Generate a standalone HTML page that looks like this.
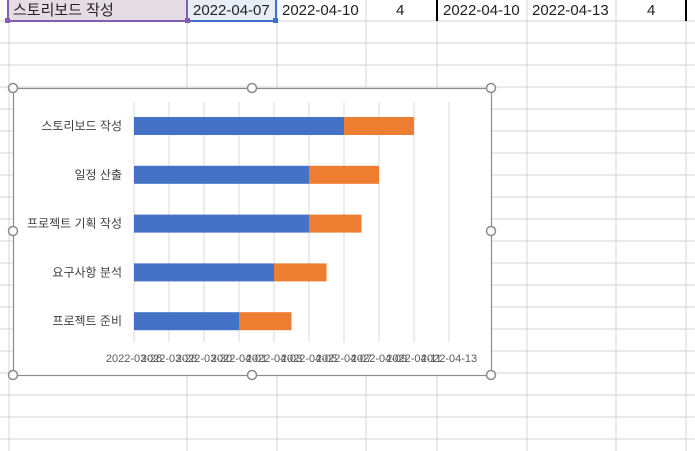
<!DOCTYPE html>
<html><head><meta charset="utf-8">
<style>
body{margin:0;width:695px;height:451px;overflow:hidden;background:#fff;font-family:"Liberation Sans","Noto Sans CJK KR",sans-serif;}
.cell{position:absolute;top:0;height:21px;line-height:21px;font-size:15px;color:#222;}
</style></head>
<body>
<svg width="695" height="451" style="position:absolute;left:0;top:0">
<g id="grid" stroke="#d4d4d4" stroke-width="1"></g>
<rect x="9" y="0" width="178" height="21" fill="#e6dde4"/>
<rect x="188" y="0" width="88" height="21" fill="#e8eef8"/>
<line x1="9" y1="21" x2="187" y2="21" stroke="#7f5fb5" stroke-width="2"/>
<line x1="8" y1="0" x2="8" y2="21" stroke="#7f5fb5" stroke-width="2"/>
<line x1="187" y1="0" x2="187" y2="21" stroke="#7f5fb5" stroke-width="2"/>
<line x1="188" y1="21" x2="276" y2="21" stroke="#3a6fc4" stroke-width="2"/>
<line x1="276" y1="0" x2="276" y2="21" stroke="#3a6fc4" stroke-width="2"/>
<rect x="5" y="18" width="5" height="5" fill="#7f5fb5"/><rect x="185" y="18" width="5" height="5" fill="#7f5fb5"/><rect x="273" y="18" width="5" height="5" fill="#3a6fc4"/>
<line x1="437" y1="0" x2="437" y2="21" stroke="#000" stroke-width="2"/>
<line x1="686" y1="0" x2="686" y2="21" stroke="#000" stroke-width="2"/>
</svg>
<div class="cell" style="left:13px">스토리보드 작성</div>
<div class="cell" style="left:193px">2022-04-07</div>
<div class="cell" style="left:282px">2022-04-10</div>
<div class="cell" style="left:396px">4</div>
<div class="cell" style="left:443px">2022-04-10</div>
<div class="cell" style="left:532px">2022-04-13</div>
<div class="cell" style="left:647px">4</div>

<svg id="chart" width="695" height="451" style="position:absolute;left:0;top:0"></svg>
<script>
const categories=["스토리보드 작성","일정 산출","프로젝트 기획 작성","요구사항 분석","프로젝트 준비"];
const startDates=["2022-04-07","2022-04-05","2022-04-05","2022-04-03","2022-04-01"];
const durations=[4,4,3,3,3];
const tickLabels=["2022-03-26","2022-03-28","2022-03-30","2022-04-01","2022-04-03","2022-04-05","2022-04-07","2022-04-09","2022-04-11","2022-04-13"];
const axisMin="2022-03-26";

const NS="http://www.w3.org/2000/svg";
function mk(p,t,a){const e=document.createElementNS(NS,t);for(const k in a)e.setAttribute(k,a[k]);p.appendChild(e);return e;}
const g=document.getElementById('grid');
[9,187,277,366,437,527,616,686].forEach(x=>mk(g,'line',{x1:x,y1:0,x2:x,y2:451}));
for(let y=21;y<451;y+=22)mk(g,'line',{x1:0,y1:y,x2:695,y2:y});

const svg=document.getElementById('chart');
const day=86400000;
function dnum(s){return Date.parse(s+"T00:00:00Z")/day;}
const x0=134,pxPerDay=17.5,base=dnum(axisMin);
function xs(d){return x0+(d-base)*pxPerDay;}
const rowTop=102,rowH=48.8;
function yc(i){return rowTop+rowH*i+24;}

const box=mk(svg,'rect',{x:13.5,y:88.5,width:478,height:287,fill:'#fff',stroke:'#8c8c8c','stroke-width':1.2});


tickLabels.forEach(t=>{
  const x=xs(dnum(t));
  const l=mk(svg,'line',{x1:x,y1:102,x2:x,y2:342,stroke:'#d9d9d9'});
  
  
  const tx=mk(svg,'text',{x:x,y:362,'text-anchor':'middle','font-size':'11',fill:'#595959'});
  tx.textContent=t;
  
  
});
categories.forEach((c,i)=>{
  const y=yc(i),s=dnum(startDates[i]);
  const b=mk(svg,'rect',{x:x0,y:y-9,width:xs(s)-x0,height:18,fill:'#4472c4'});
  
  
  const o=mk(svg,'rect',{x:xs(s),y:y-9,width:durations[i]*pxPerDay,height:18,fill:'#ed7d31'});
  
  
  const t=mk(svg,'text',{x:122,y:y+4,'text-anchor':'end','font-size':'12',fill:'#404040'});
  t.textContent=c;
  
  
});
[[13,88],[252,88],[491,88],[13,231],[491,231],[13,375],[252,375],[491,375]].forEach(p=>{
  const h=mk(svg,'circle',{cx:p[0],cy:p[1],r:4.5,fill:'#fff',stroke:'#8c8c8c','stroke-width':1.5});
  
  
});
</script>
</body></html>
